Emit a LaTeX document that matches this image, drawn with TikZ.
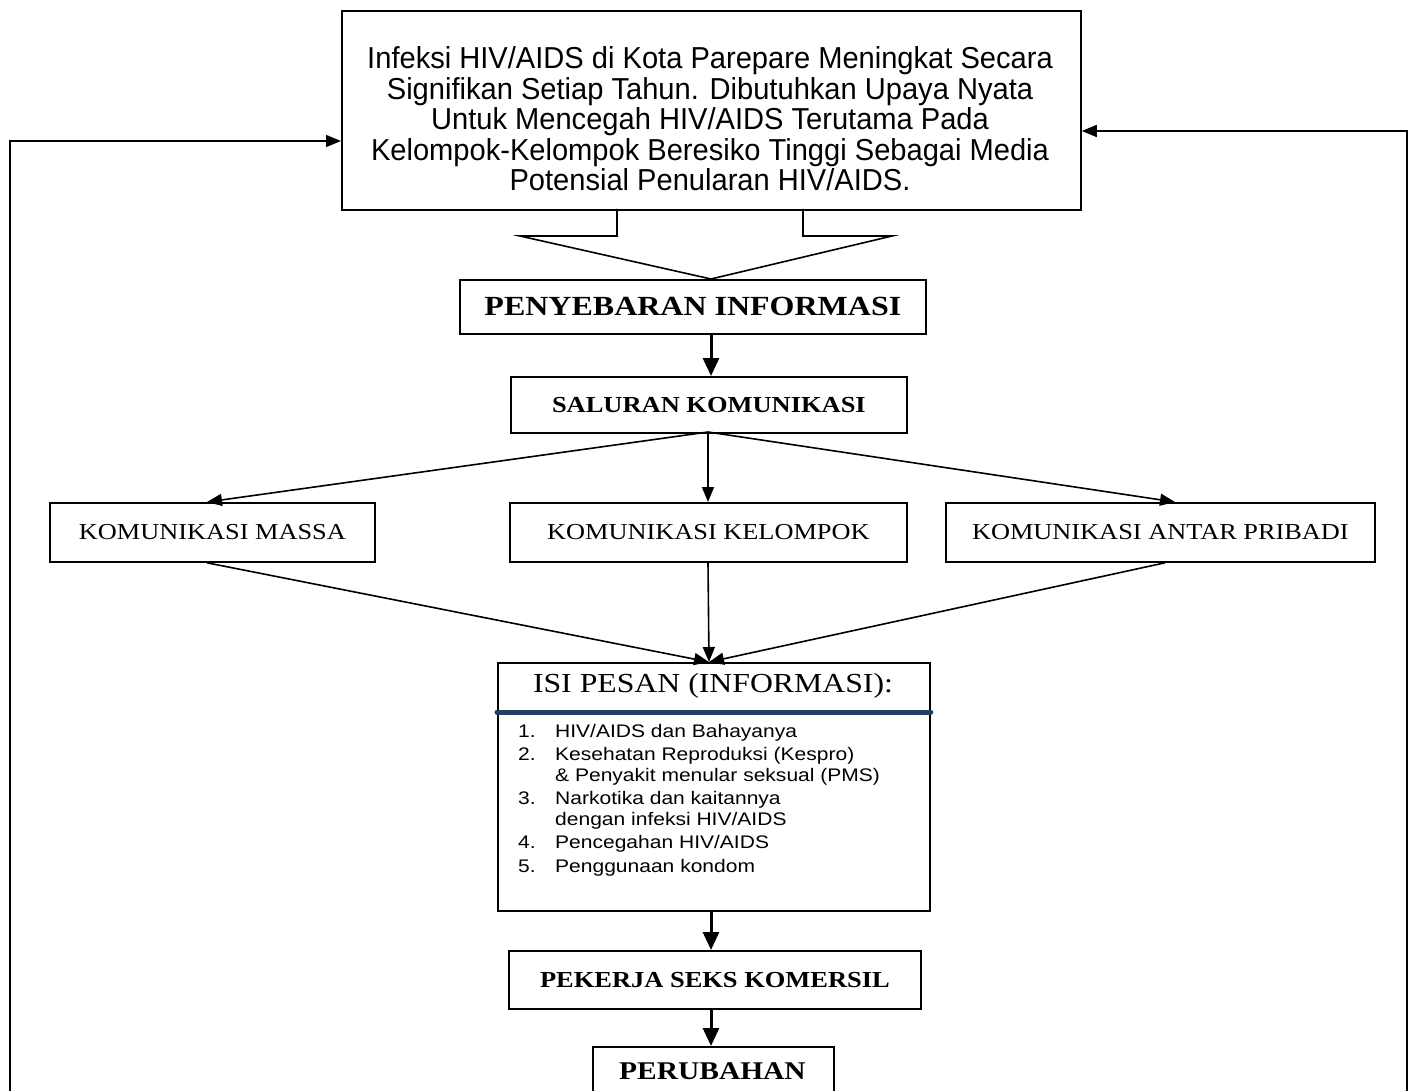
\documentclass[tikz,border=0pt]{standalone}
\usepackage{fontspec}
\setmainfont{Liberation Serif}[FakeStretch=1.155]
\newfontfamily\arialfont{Liberation Sans}[FakeStretch=1.155]
\newfontfamily\narrowfont{Liberation Sans}[FakeStretch=0.96]
\usetikzlibrary{arrows.meta}
\definecolor{rulenavy}{RGB}{36,62,96}
\begin{document}
\begin{tikzpicture}[x=1pt,y=-1pt,
  box/.style={draw, line width=1.8pt, inner sep=0pt, anchor=north west},
  thinarrow/.style={line width=1.6pt, -{Triangle[length=15pt,width=12pt]}},
  thickarrow/.style={line width=3pt, -{Triangle[length=18pt,width=16pt]}},
  plainline/.style={line width=1.6pt},
  headbold/.style={font=\bfseries\fontsize{27.7}{30}\selectfont},
  subbold/.style={font=\bfseries\fontsize{22.9}{25}\selectfont},
  channel/.style={font=\fontsize{22.8}{25}\selectfont}]
\useasboundingbox (0,0) rectangle (1411,1091);
\clip (0,0) rectangle (1411,1091);

% problem statement
\node[box, minimum width=739pt, minimum height=199pt] (top) at (341,10) {};
\node[font=\narrowfont\fontsize{30.3}{30.5}\selectfont, align=center] (toptext) at (710,119)
  {Infeksi HIV/AIDS di Kota Parepare Meningkat Secara\\
   Signifikan Setiap Tahun. Dibutuhkan Upaya Nyata\\
   Untuk Mencegah HIV/AIDS Terutama Pada\\
   Kelompok-Kelompok Beresiko Tinggi Sebagai Media\\
   Potensial Penularan HIV/AIDS.};

% main flow boxes
\node[box, minimum width=466pt, minimum height=54pt, headbold] (sebar) at (459,279) {PENYEBARAN INFORMASI};
\node[box, minimum width=396pt, minimum height=56pt, subbold] (saluran) at (510,376) {SALURAN KOMUNIKASI};
\node[box, minimum width=325pt, minimum height=59pt, channel] (massa) at (49,502) {KOMUNIKASI MASSA};
\node[box, minimum width=397pt, minimum height=59pt, channel] (kelompok) at (509,502) {KOMUNIKASI KELOMPOK};
\node[box, minimum width=429pt, minimum height=59pt, channel] (antar) at (945,502) {KOMUNIKASI ANTAR PRIBADI};
\node[box, minimum width=432pt, minimum height=248pt] (isi) at (497,662) {};
\node[font=\fontsize{27.5}{30}\selectfont] (isihead) at (713,686) {ISI PESAN (INFORMASI):};
\node[anchor=north west, inner sep=0pt, align=left,
      font=\arialfont\fontsize{18.2}{20.5}\selectfont] (isilist) at (518,724)
  {\makebox[37pt][l]{1.}HIV/AIDS dan Bahayanya\\[3pt]
   \makebox[37pt][l]{2.}Kesehatan Reproduksi (Kespro)\\
   \hspace*{37pt}\& Penyakit menular seksual (PMS)\\[3pt]
   \makebox[37pt][l]{3.}Narkotika dan kaitannya\\
   \hspace*{37pt}dengan infeksi HIV/AIDS\\[3pt]
   \makebox[37pt][l]{4.}Pencegahan HIV/AIDS\\[3pt]
   \makebox[37pt][l]{5.}Penggunaan kondom};
\node[box, minimum width=412pt, minimum height=58pt, subbold] (psk) at (508,950) {PEKERJA SEKS KOMERSIL};
\node[box, minimum width=241pt, minimum height=80pt] (ubah) at (592,1046) {};
\node[font=\bfseries\fontsize{25.5}{28}\selectfont] (ubahtext) at (712.5,1071) {PERUBAHAN};

% rule under the message heading
\draw[rulenavy, line width=5pt, line cap=round] (isi.west |- 0,712) -- (isi.east |- 0,712);

% wide arrow from the statement box
\coordinate (nl) at (617,209);
\coordinate (nr) at (803,209);
\draw[plainline] (nl) -- (617,236) -- (520,236) -- (sebar.north -| 711,0) -- (892,236) -- (803,236) -- (nr);

% flow arrows
\draw[thickarrow] (sebar.south -| 711,0) -- (saluran.north -| 711,0);
\coordinate (fan) at (708,432);
\draw[thinarrow] (fan) -- (massa.north -| 207,0);
\draw[thinarrow] (fan) -- (kelompok.north -| 708,0);
\draw[thinarrow] (fan) -- (antar.north -| 1175,0);
\coordinate (join) at (709,662);
\draw[thinarrow] (massa.south -| 207,0) -- (join);
\draw[thinarrow] (kelompok.south -| 708,0) -- (join);
\draw[thinarrow] (antar.south -| 1165,0) -- (join);
\draw[thickarrow] (isi.south -| 711,0) -- (psk.north -| 711,0);
\draw[thickarrow] (psk.south -| 711,0) -- (ubah.north -| 711,0);

% feedback loops
\coordinate (lb) at (10,1095);
\coordinate (rb) at (1407,1095);
\draw[thinarrow] (lb) |- (top.west |- 0,141);
\draw[thinarrow] (rb) |- (top.east |- 0,131);
\end{tikzpicture}
\end{document}
